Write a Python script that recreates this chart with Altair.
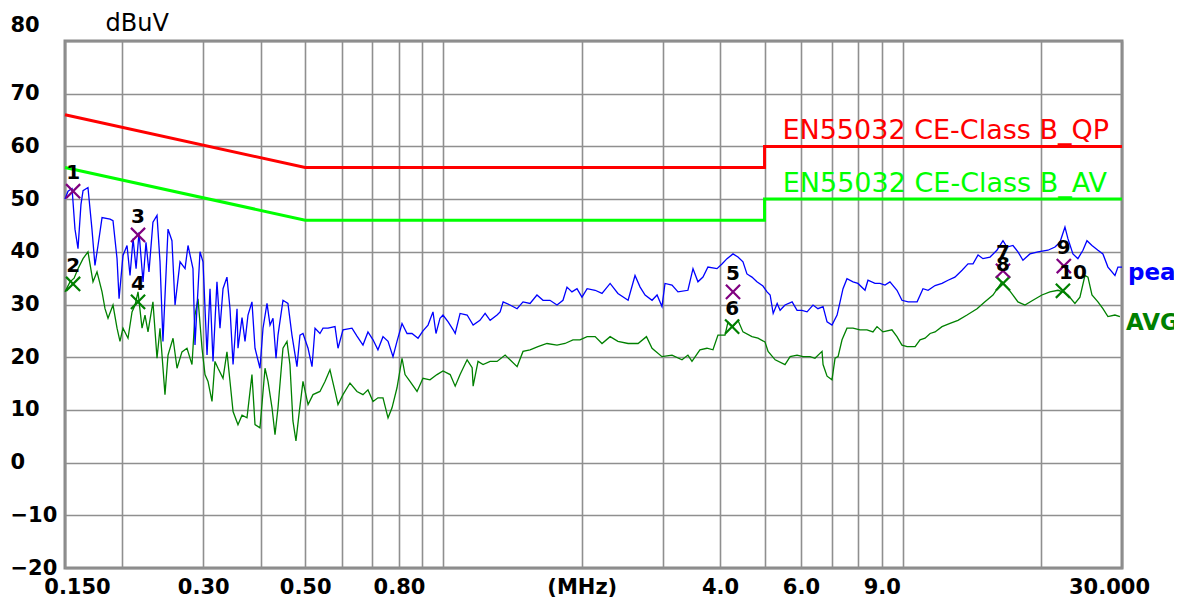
import altair as alt
import pandas as pd

# ---------------- data ----------------
qp_f = [0.15, 0.5, 5.0, 5.0, 30.0]
qp_v = [66, 56, 56, 60, 60]
av_f = [0.15, 0.5, 5.0, 5.0, 30.0]
av_v = [56, 46, 46, 50, 50]

peak_f = [0.150, 0.1523, 0.1554, 0.1577, 0.1601, 0.1625, 0.1642, 0.1683, 0.1717, 0.1743,
          0.1770, 0.1806, 0.1880, 0.1908, 0.1947, 0.1967, 0.2006, 0.2047, 0.2078, 0.2110,
          0.2142, 0.2174, 0.2218, 0.2251, 0.2285, 0.2331, 0.2379, 0.2415, 0.2451, 0.2514,
          0.2564, 0.2604, 0.2670, 0.2738, 0.2779, 0.2849, 0.2878, 0.2951, 0.2996, 0.3057,
          0.3103, 0.3150, 0.3213, 0.3262, 0.3312, 0.3378, 0.3430, 0.3483, 0.3553, 0.3570,
          0.3643, 0.3698, 0.3754, 0.3829, 0.3888, 0.3986, 0.4047, 0.4129, 0.4192, 0.4255,
          0.4320, 0.4363, 0.4473, 0.4586, 0.4679, 0.4798, 0.4871, 0.4945, 0.5072, 0.5174,
          0.5253, 0.5384, 0.5467, 0.5606, 0.5806, 0.5894, 0.6043, 0.6322, 0.6482, 0.6680,
          0.6849, 0.7025, 0.7200, 0.7385, 0.7574, 0.7765, 0.7922, 0.8124, 0.8331, 0.8539,
          0.8803, 0.9023, 0.9255, 0.9488, 0.9632, 0.9828, 0.9975, 1.0237, 1.0500, 1.0605,
          1.0868, 1.1259, 1.1603, 1.2006, 1.2321, 1.2635, 1.3081, 1.3284, 1.3486, 1.3959,
          1.4464, 1.4899, 1.5434, 1.5977, 1.6471, 1.7053, 1.7667, 1.8204, 1.8574, 1.9039,
          1.9529, 2.0021, 2.0547, 2.1389, 2.2138, 2.3057, 2.3977, 2.5233, 2.6122, 2.6797,
          2.7473, 2.8449, 2.9174, 2.9899, 3.0357, 3.1442, 3.2397, 3.4053, 3.4930, 3.5807,
          3.6722, 3.7648, 3.9392, 4.0392, 4.1423, 4.2688, 4.3763, 4.4876, 4.5775, 4.6941,
          4.8123, 4.9605, 5.0632, 5.1421, 5.2211, 5.3263, 5.4053, 5.5402, 5.7414, 5.8851,
          6.0313, 6.1875, 6.375, 6.534, 6.7041, 6.8401, 7.0109, 7.1920, 7.3007, 7.4094,
          7.5581, 7.7907, 7.9845, 8.2727, 8.3967, 8.6974, 8.9167, 9.1435, 9.3750, 9.7108,
          9.9559, 10.2684, 10.7421, 11.0632, 11.3506, 11.7529, 12.1688, 12.5438, 12.9813, 13.4558,
          13.8639, 14.2174, 14.5797, 14.942, 15.4806, 16.0248, 16.5207, 16.8512, 17.3684, 17.807,
          18.2593, 18.9074, 19.6863, 20.701, 21.4409, 21.9785, 22.5393, 22.8764, 23.4588, 24.0494,
          24.6667, 25.1667, 25.8077, 26.5921, 27.2639, 27.9583, 28.9571, 29.397, 30.0]
peak_v = [50.0, 51.5, 52.0, 44.3, 40.6, 49.0, 51.6, 52.2, 44.3, 37.4,
          41.2, 46.5, 46.2, 45.9, 38.7, 31.1, 39.3, 41.2, 35.5, 42.5,
          36.8, 43.7, 34.3, 41.8, 36.2, 45.6, 46.9, 38.1, 23.0, 44.3,
          42.1, 29.9, 38.1, 36.8, 41.2, 36.8, 22.3, 40.0, 38.1, 20.4,
          33.0, 19.2, 34.3, 25.5, 33.0, 35.2, 29.2, 18.6, 29.2, 21.7,
          27.5, 23.0, 28.0, 30.5, 21.7, 17.9, 25.5, 30.2, 26.1, 27.4,
          19.8, 24.2, 30.8, 30.2, 24.2, 18.2, 24.2, 24.5, 21.7, 18.2,
          25.5, 24.5, 25.5, 25.5, 25.8, 21.7, 25.2, 25.5, 24.0, 22.3,
          24.8, 23.3, 21.4, 23.9, 23.0, 20.1, 23.0, 26.4, 24.5, 24.5,
          23.6, 25.0, 26.1, 28.6, 24.5, 27.4, 28.0, 26.7, 25.2, 24.5,
          28.3, 28.0, 26.1, 27.0, 28.3, 27.0, 28.0, 28.6, 30.5, 29.9,
          29.2, 30.5, 30.2, 31.8, 30.8, 30.8, 29.9, 30.8, 33.3, 32.4,
          33.0, 31.4, 33.0, 32.7, 32.1, 34.0, 32.1, 30.8, 35.5, 33.3,
          31.8, 30.8, 31.8, 29.6, 34.0, 33.7, 32.4, 32.7, 36.8, 34.3,
          35.2, 37.1, 36.8, 37.7, 38.7, 39.6, 39.0, 38.1, 35.8, 35.2,
          34.3, 33.5, 32.4, 31.8, 28.3, 30.2, 28.9, 29.9, 30.5, 28.9,
          28.9, 28.6, 29.9, 29.2, 29.6, 26.7, 26.1, 28.0, 30.5, 33.0,
          34.9, 34.3, 34.0, 32.7, 34.6, 34.0, 34.0, 33.7, 34.3, 32.7,
          30.8, 30.5, 30.5, 33.0, 32.7, 33.6, 34.0, 34.6, 35.2, 36.5,
          37.7, 37.7, 39.4, 38.7, 39.0, 40.3, 42.1, 40.9, 41.2, 40.0,
          38.4, 39.6, 40.0, 40.3, 40.9, 41.8, 44.7, 42.5, 39.6, 38.7,
          40.3, 42.1, 41.2, 40.3, 39.6, 37.1, 35.5, 37.1, 37.1]

avg_f = [0.150, 0.1538, 0.1570, 0.1601, 0.1642, 0.1683, 0.1726, 0.1761, 0.1806, 0.1833,
         0.1861, 0.1908, 0.1947, 0.1976, 0.2006, 0.2057, 0.2099, 0.2131, 0.2163, 0.2207,
         0.2240, 0.2274, 0.2331, 0.2379, 0.2415, 0.2476, 0.2514, 0.2578, 0.2630, 0.2696,
         0.2765, 0.2835, 0.2878, 0.2922, 0.2981, 0.3026, 0.3072, 0.3134, 0.3181, 0.3230,
         0.3312, 0.3378, 0.3430, 0.3483, 0.3570, 0.3643, 0.3735, 0.3829, 0.3888, 0.3986,
         0.4088, 0.4150, 0.4234, 0.4298, 0.4363, 0.4473, 0.4564, 0.4632, 0.4702, 0.4774,
         0.4846, 0.4945, 0.5072, 0.5200, 0.5384, 0.5522, 0.5661, 0.5806, 0.5894, 0.6043,
         0.6259, 0.6482, 0.6680, 0.6849, 0.7025, 0.7200, 0.7385, 0.7574, 0.7727, 0.7922,
         0.8124, 0.8248, 0.8455, 0.8759, 0.9023, 0.9347, 0.9681, 0.9975, 1.0342, 1.0605,
         1.0868, 1.1259, 1.1546, 1.1603, 1.1891, 1.2195, 1.2635, 1.3081, 1.3622, 1.3959,
         1.4464, 1.4899, 1.5434, 1.6058, 1.6801, 1.7667, 1.8389, 1.9137, 1.9824, 2.0547,
         2.1389, 2.2138, 2.3057, 2.3977, 2.5233, 2.6527, 2.7662, 2.8449, 2.9899, 3.1442,
         3.3058, 3.4053, 3.4754, 3.6167, 3.7463, 3.8608, 3.9588, 4.1010, 4.1629, 4.2688,
         4.3763, 4.4876, 4.6941, 4.8370, 5.0105, 5.0895, 5.2737, 5.5402, 5.6839, 5.8851,
         6.0625, 6.2813, 6.4375, 6.6701, 6.7041, 6.8401, 7.0109, 7.1196, 7.2283, 7.3732,
         7.5581, 7.7907, 8.0661, 8.3554, 8.6096, 8.7851, 9.0509, 9.4676, 9.7108, 9.9559,
         10.2158, 10.6368, 10.9, 11.1782, 11.4655, 11.7529, 12.1688, 12.6688, 13.1837, 13.7959,
         14.5072, 15.093, 15.7132, 16.438, 16.8512, 17.3684, 17.807, 18.4444, 19.1961, 20.0825,
         20.9072, 21.7634, 22.3146, 22.8764, 23.6941, 24.2963, 24.9136, 25.2949, 25.8077, 26.5921,
         27.2639, 27.9583, 28.9571, 29.691]
avg_v = [32.4, 34.3, 35.0, 36.8, 38.7, 40.0, 34.3, 36.2, 32.4, 29.2,
         27.4, 29.9, 25.5, 23.0, 25.5, 23.6, 28.6, 29.9, 32.4, 25.5,
         28.0, 24.8, 30.5, 19.8, 25.5, 12.9, 20.4, 23.6, 17.9, 21.0,
         21.7, 18.6, 28.0, 31.1, 21.7, 16.7, 15.4, 11.6, 19.2, 17.9,
         16.0, 21.0, 15.4, 9.7, 7.2, 9.0, 8.5, 16.7, 7.2, 6.6,
         17.9, 15.4, 10.4, 5.3, 10.4, 21.7, 23.0, 18.6, 7.9, 4.1,
         9.1, 15.4, 11.0, 12.9, 13.5, 15.4, 17.6, 13.5, 11.0, 12.9,
         15.1, 13.5, 12.9, 13.8, 11.6, 12.3, 12.3, 8.5, 10.4, 14.2,
         19.8, 16.7, 15.4, 13.5, 16.0, 15.7, 16.7, 17.4, 16.7, 14.5,
         16.7, 19.5, 18.0, 14.5, 19.2, 18.6, 19.2, 19.2, 20.4, 19.5,
         18.2, 21.1, 21.4, 22.0, 22.6, 22.3, 22.6, 23.3, 23.3, 23.9,
         23.9, 22.6, 23.9, 23.0, 22.6, 22.6, 23.9, 21.7, 20.1, 20.4,
         19.5, 20.4, 19.2, 21.4, 21.7, 21.4, 24.2, 24.2, 26.7, 25.8,
         27.0, 24.8, 23.9, 23.6, 22.9, 21.1, 19.5, 18.6, 20.1, 20.4,
         20.1, 20.1, 19.8, 21.1, 18.6, 16.4, 15.7, 19.8, 20.1, 23.3,
         25.5, 25.5, 25.2, 25.2, 24.8, 25.8, 24.8, 25.2, 23.9, 22.3,
         22.0, 22.0, 23.3, 23.6, 24.5, 24.8, 25.8, 26.4, 27.0, 28.0,
         29.2, 30.5, 31.8, 34.3, 33.3, 31.8, 30.5, 29.9, 30.8, 31.8,
         32.4, 32.7, 32.4, 31.8, 30.2, 31.4, 35.5, 35.2, 31.8, 30.5,
         29.2, 27.7, 28.0, 27.7]

mk_f = [0.1562, 0.1562, 0.2163, 0.2163, 4.2688, 4.25, 16.52, 16.52, 22.41, 22.31]
mk_v = [51.5, 33.9, 43.2, 30.5, 32.4, 25.8, 36.4, 34.0, 37.3, 32.6]
mk_label = ["1", "2", "3", "4", "5", "6", "7", "8", "9", "10"]
mk_kind = ["peak", "avg", "peak", "avg", "peak", "avg", "peak", "avg", "peak", "avg"]

qp_name = "EN55032 CE-Class B_QP"
av_name = "EN55032 CE-Class B_AV"
peak_name = "peak"
avg_name = "AVG"

x_ticks = [0.15, 0.2, 0.3, 0.4, 0.5, 0.6, 0.7, 0.8, 0.9, 1, 2, 3, 4, 5, 6, 7, 8, 9, 10, 20, 30]
x_tick_text = ["0.150", "", "0.30", "", "0.50", "", "", "0.80", "", "", "(MHz)", "", "4.0", "",
               "6.0", "", "", "9.0", "", "", "30.000"]
y_ticks = [-20, -10, 0, 10, 20, 30, 40, 50, 60, 70, 80]
y_title = "dBuV"

# ---------------- chart ----------------
FONT = "DejaVu Sans"
GRID = "#8f8f8f"

label_expr = " : ".join(
    [f"abs(datum.value - {v}) < 1e-6 ? '{t}'" for v, t in zip(x_ticks, x_tick_text) if t]
) + " : ''"

xscale = alt.Scale(type="log", domain=[x_ticks[0], x_ticks[-1]], nice=False)
yscale = alt.Scale(domain=[y_ticks[0], y_ticks[-1]], nice=False, zero=False)

xaxis = alt.Axis(
    values=x_ticks, labelExpr=label_expr, grid=True, gridColor=GRID, gridWidth=1.6,
    gridOpacity=1, ticks=False, tickSize=0, domain=False, title=None,
    labelFont=FONT, labelFontSize=21, labelFontWeight="bold", labelColor="black",
    labelPadding=8, labelOverlap=False, labelFlush=False, labelBound=False,
    labelOffset={"condition": [{"test": "datum.value < 0.16", "value": 12},
                               {"test": "datum.value > 29", "value": -13}], "value": 0},
)
yaxis = alt.Axis(
    values=y_ticks, grid=True, gridColor=GRID, gridWidth=1.6, gridOpacity=1,
    ticks=False, tickSize=0, domain=False,
    labelFont=FONT, labelFontSize=21, labelFontWeight="bold", labelColor="black",
    labelAlign="left", labelBaseline="middle", labelPadding=55, labelOverlap=False,
    labelBound=False, labelFlush=False,
    labelOffset={"condition": {"test": "datum.value > 79", "value": -16}, "value": 0},
    title=y_title, titleAngle=0, titleX=40, titleY=-11, titleAlign="left",
    titleBaseline="alphabetic", titleFont=FONT, titleFontSize=24,
    titleFontWeight="normal", titleColor="black",
)

X = alt.X("f:Q", scale=xscale, axis=xaxis)
Y = alt.Y("v:Q", scale=yscale, axis=yaxis)

qp_df = pd.DataFrame({"f": qp_f, "v": qp_v, "i": list(range(len(qp_f)))})
av_df = pd.DataFrame({"f": av_f, "v": av_v, "i": list(range(len(av_f)))})
pk_df = pd.DataFrame({"f": peak_f, "v": peak_v, "i": list(range(len(peak_f)))})
ag_df = pd.DataFrame({"f": avg_f, "v": avg_v, "i": list(range(len(avg_f)))})
mk_df = pd.DataFrame({"f": mk_f, "v": mk_v, "t": mk_label, "k": mk_kind})

qp_line = alt.Chart(qp_df).mark_line(color="#ff0000", strokeWidth=3).encode(x=X, y=Y, order="i:Q")
av_line = alt.Chart(av_df).mark_line(color="#00ff00", strokeWidth=3).encode(x=X, y=Y, order="i:Q")
pk_line = alt.Chart(pk_df).mark_line(color="#0000ff", strokeWidth=1.3).encode(x=X, y=Y, order="i:Q")
ag_line = alt.Chart(ag_df).mark_line(color="#008000", strokeWidth=1.3).encode(x=X, y=Y, order="i:Q")

XSHAPE = "M-1,-1L1,1M-1,1L1,-1"
pk_mk = alt.Chart(mk_df).transform_filter("datum.k == 'peak'").mark_point(
    shape=XSHAPE, filled=False, size=200, strokeWidth=2.2, color="#800080", opacity=1
).encode(x=X, y=Y)
ag_mk = alt.Chart(mk_df).transform_filter("datum.k == 'avg'").mark_point(
    shape=XSHAPE, filled=False, size=200, strokeWidth=2.2, color="#008000", opacity=1
).encode(x=X, y=Y)

mk_txt = alt.Chart(mk_df).transform_filter("datum.t != '10'").mark_text(
    font=FONT, fontSize=20, fontWeight="bold", color="black", dy=-18, baseline="middle"
).encode(x=X, y=Y, text="t:N")
mk_txt10 = alt.Chart(mk_df).transform_filter("datum.t == '10'").mark_text(
    font=FONT, fontSize=20, fontWeight="bold", color="black", dy=-18, dx=10, baseline="middle"
).encode(x=X, y=Y, text="t:N")

qp_lab_df = pd.DataFrame({"f": [qp_f[-1]], "v": [qp_v[-1]], "t": [qp_name]})
av_lab_df = pd.DataFrame({"f": [av_f[-1]], "v": [av_v[-1]], "t": [av_name]})
qp_lab = alt.Chart(qp_lab_df).mark_text(
    font=FONT, fontSize=27, color="#ff0000", align="right", baseline="alphabetic", dx=-13, dy=-7
).encode(x=X, y=Y, text="t:N")
av_lab = alt.Chart(av_lab_df).mark_text(
    font=FONT, fontSize=27, color="#00ff00", align="right", baseline="alphabetic", dx=-15, dy=-7
).encode(x=X, y=Y, text="t:N")

pk_end_df = pd.DataFrame({"f": [peak_f[-1]], "v": [peak_v[-1]], "t": [peak_name]})
ag_end_df = pd.DataFrame({"f": [avg_f[-1]], "v": [avg_v[-1]], "t": [avg_name]})
pk_end = alt.Chart(pk_end_df).mark_text(
    font=FONT, fontSize=23, fontWeight="bold", color="#0000ff", align="left", baseline="middle",
    dx=6, dy=6
).encode(x=X, y=Y, text="t:N")
ag_end = alt.Chart(ag_end_df).mark_text(
    font=FONT, fontSize=23, fontWeight="bold", color="#008000", align="left", baseline="middle",
    dx=6, dy=6
).encode(x=X, y=Y, text="t:N")

chart = alt.layer(
    qp_line, av_line, ag_line, pk_line, ag_mk, pk_mk, mk_txt, mk_txt10,
    qp_lab, av_lab, pk_end, ag_end
).properties(
    width=1057, height=527,
    padding={"left": 57, "top": 33, "right": 52, "bottom": 34},
    autosize=alt.AutoSizeParams(type="none"),
    background="white",
).configure_view(
    stroke="#8a8a8a", strokeWidth=3
)

chart.save("out.html", embed_options={"renderer": "svg", "actions": False})
